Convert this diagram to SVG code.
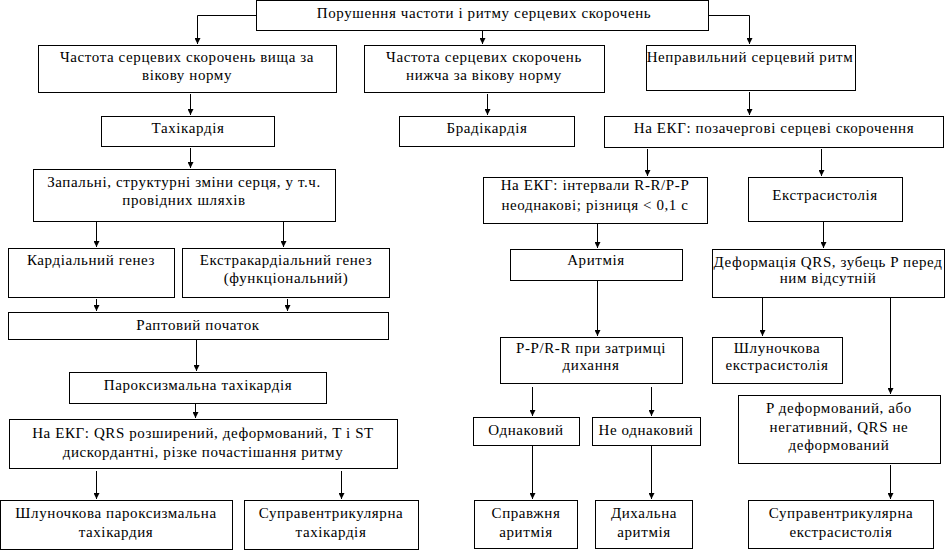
<svg xmlns="http://www.w3.org/2000/svg" width="945" height="551" viewBox="0 0 945 551">
<style>
.box{fill:#fff;stroke:#000;stroke-width:1}
.t{font-family:'Liberation Serif',serif;font-size:15px;letter-spacing:0.6px;text-anchor:middle;fill:#000}
.c path{fill:none;stroke:#000;stroke-width:1;marker-end:url(#ah)}
</style>
<defs>
<marker id="ah" viewBox="0 0 10 10" refX="10" refY="5" markerWidth="9" markerHeight="6" orient="auto" markerUnits="userSpaceOnUse">
<path d="M0,0 L10,5 L0,10 z" fill="#000"/>
</marker>
</defs>
<rect width="945" height="551" fill="#fff"/>
<g class="t">
<g id="n_top"><rect class="box" x="256.5" y="0.5" width="452" height="30"/><text x="484" y="18">Порушення частоти і ритму серцевих скорочень</text></g>
<g id="n_high"><rect class="box" x="38.5" y="45.5" width="298" height="47"/><text x="187" y="62">Частота серцевих скорочень вища за</text><text x="187" y="80">вікову норму</text></g>
<g id="n_low"><rect class="box" x="364.5" y="45.5" width="240" height="47"/><text x="484" y="62">Частота серцевих скорочень</text><text x="484" y="80">нижча за вікову норму</text></g>
<g id="n_irr"><rect class="box" x="646.5" y="45.5" width="209" height="45"/><text x="750" y="62">Неправильний серцевий ритм</text></g>
<g id="n_tachy"><rect class="box" x="101.5" y="116.5" width="173" height="30"/><text x="188" y="133">Тахікардія</text></g>
<g id="n_brady"><rect class="box" x="399.5" y="116.5" width="175" height="30"/><text x="487" y="133">Брадікардія</text></g>
<g id="n_ekg1"><rect class="box" x="604.5" y="116.5" width="339" height="31"/><text x="774" y="133">На ЕКГ: позачергові серцеві скорочення</text></g>
<g id="n_infl"><rect class="box" x="33.5" y="169.5" width="302" height="52"/><text x="184" y="187">Запальні, структурні зміни серця, у т.ч.</text><text x="184" y="205">провідних шляхів</text></g>
<g id="n_int"><rect class="box" x="483.5" y="177.5" width="224" height="46"/><text x="595" y="190">На ЕКГ: інтервали R-R/P-P</text><text x="595" y="210">неоднакові; різниця &lt; 0,1 с</text></g>
<g id="n_extra"><rect class="box" x="748.5" y="177.5" width="154" height="44"/><text x="825" y="200">Екстрасистолія</text></g>
<g id="n_card"><rect class="box" x="8.5" y="248.5" width="166" height="49"/><text x="91" y="265">Кардіальний генез</text></g>
<g id="n_excard"><rect class="box" x="182.5" y="248.5" width="207" height="49"/><text x="286" y="265">Екстракардіальний генез</text><text x="286" y="283">(функціональний)</text></g>
<g id="n_arr"><rect class="box" x="510.5" y="249.5" width="172" height="31"/><text x="596" y="265">Аритмія</text></g>
<g id="n_def"><rect class="box" x="712.5" y="249.5" width="232" height="48"/><text x="828" y="267">Деформація QRS, зубець P перед</text><text x="828" y="283">ним відсутній</text></g>
<g id="n_sudden"><rect class="box" x="8.5" y="312.5" width="380" height="27"/><text x="198" y="330">Раптовий початок</text></g>
<g id="n_pp"><rect class="box" x="500.5" y="337.5" width="182" height="46"/><text x="591" y="353">P-P/R-R при затримці</text><text x="591" y="370">дихання</text></g>
<g id="n_vext"><rect class="box" x="712.5" y="337.5" width="130" height="46"/><text x="777" y="353">Шлуночкова</text><text x="777" y="370">екстрасистолія</text></g>
<g id="n_parox"><rect class="box" x="69.5" y="372.5" width="257" height="31"/><text x="198" y="390">Пароксизмальна тахікардія</text></g>
<g id="n_pdef"><rect class="box" x="738.5" y="395.5" width="202" height="68"/><text x="839" y="413">P деформований, або</text><text x="839" y="432">негативний, QRS не</text><text x="839" y="450">деформований</text></g>
<g id="n_same"><rect class="box" x="473.5" y="417.5" width="106" height="28"/><text x="526" y="435">Однаковий</text></g>
<g id="n_notsame"><rect class="box" x="592.5" y="417.5" width="108" height="28"/><text x="646" y="435">Не однаковий</text></g>
<g id="n_ekg2"><rect class="box" x="9.5" y="419.5" width="388" height="49"/><text x="203" y="438">На ЕКГ: QRS розширений, деформований, T і ST</text><text x="203" y="457">дискордантні, різке почастішання ритму</text></g>
<g id="n_vpt"><rect class="box" x="0.5" y="500.5" width="232" height="49"/><text x="116" y="518">Шлуночкова пароксизмальна</text><text x="116" y="537">тахікардия</text></g>
<g id="n_svt"><rect class="box" x="244.5" y="500.5" width="174" height="49"/><text x="331" y="518">Суправентрикулярна</text><text x="331" y="537">тахікардія</text></g>
<g id="n_true"><rect class="box" x="474.5" y="500.5" width="103" height="48"/><text x="526" y="518">Справжня</text><text x="526" y="537">аритмія</text></g>
<g id="n_resp"><rect class="box" x="595.5" y="500.5" width="97" height="48"/><text x="644" y="518">Дихальна</text><text x="644" y="537">аритмія</text></g>
<g id="n_sve"><rect class="box" x="748.5" y="500.5" width="185" height="48"/><text x="841" y="518">Суправентрикулярна</text><text x="841" y="537">екстрасистолія</text></g>
</g>
<g id="connectors" class="c">
<path d="M256,15.5 H197.5 V44"/>
<path d="M482.5,31 V44"/>
<path d="M709,15.5 H749.5 V44"/>
<path d="M190.5,94 V115"/>
<path d="M487.5,94 V115"/>
<path d="M749.5,92 V115"/>
<path d="M190.5,148 V168"/>
<path d="M96.5,222 V247"/>
<path d="M283.5,222 V247"/>
<path d="M96.5,299 V311"/>
<path d="M287.5,299 V311"/>
<path d="M196.5,340 V371"/>
<path d="M195.5,404 V418"/>
<path d="M96.5,471 V499"/>
<path d="M341.5,471 V499"/>
<path d="M647.5,149 V176"/>
<path d="M821.5,149 V176"/>
<path d="M597.5,224 V248"/>
<path d="M823.5,222 V248"/>
<path d="M597.5,281 V336"/>
<path d="M762.5,298 V336"/>
<path d="M890.5,298 V394"/>
<path d="M532.5,387 V416"/>
<path d="M651.5,387 V416"/>
<path d="M532.5,446 V499"/>
<path d="M651.5,446 V499"/>
<path d="M890.5,465 V499"/>
</g>
</svg>
